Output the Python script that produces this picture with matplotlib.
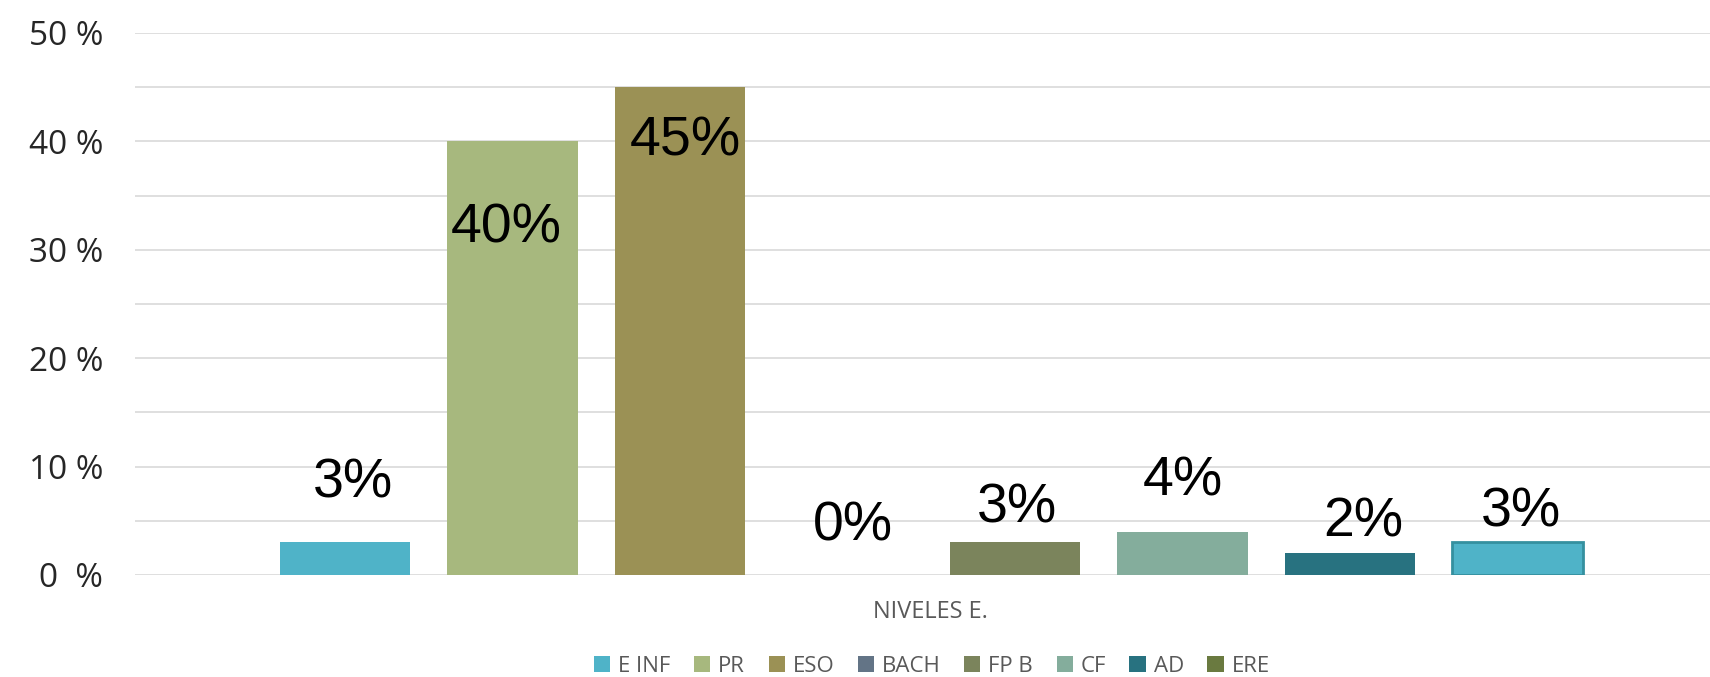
import numpy as np
import matplotlib.pyplot as plt
from matplotlib.patches import Patch
from matplotlib.ticker import MultipleLocator

# data
series = ["E INF", "PR", "ESO", "BACH", "FP B", "CF", "AD", "ERE"]
values = [3, 40, 45, 0, 3, 4, 2, 3]
labels = ["3%", "40%", "45%", "0%", "3%", "4%", "2%", "3%"]
category = "NIVELES E."
ytick_vals = [0, 10, 20, 30, 40, 50]
ytick_labels = ["0  %", "10 %", "20 %", "30 %", "40 %", "50 %"]

# label placement (hand moved in the original)
label_dx = [0.05, -0.04, 0.03, 0.03, 0.01, 0.0, 0.08, 0.02]
label_y = [8.4, 32.0, 40.0, 4.5, 6.1, 8.6, 4.8, 5.8]

legend_colors = ["#4fb3c8", "#a7b87e", "#9b9155", "#637486",
                 "#7b845c", "#84ad9c", "#287280", "#6a7a40"]
bar_colors = legend_colors[:-1] + ["#4fb3c8"]
edge_colors = ["none"] * 7 + ["#35909f"]

fig = plt.figure(figsize=(17.1, 6.77), dpi=100)
ax = fig.add_axes([0.0789, 0.1507, 0.9211, 0.8006])

x = np.arange(len(series))
ax.bar(x, values, width=0.78, color=bar_colors, edgecolor=edge_colors,
       linewidth=2, zorder=3)

for i, lab in enumerate(labels):
    ax.text(x[i] + label_dx[i], label_y[i], lab, ha="center", va="center",
            fontsize=40, family=["Liberation Sans", "DejaVu Sans"],
            color="black", zorder=4)

ax.set_xlim(-1.254, 8.149)
ax.set_ylim(0, 50)

ax.yaxis.set_major_locator(MultipleLocator(5))
ax.set_yticks(ytick_vals)
ax.set_yticklabels(ytick_labels, family=["Open Sans", "DejaVu Sans"],
                   fontsize=24, color="#262626")
ax.yaxis.set_minor_locator(MultipleLocator(5))
ax.tick_params(axis="y", which="both", length=0, pad=23)
ax.set_xticks([])

ax.grid(axis="y", which="both", color="#d9d9d9", linewidth=1.2, zorder=0)
for s in ax.spines.values():
    s.set_visible(False)

ax.set_xlabel(category, family=["Open Sans", "DejaVu Sans"], fontsize=17,
              color="#595959")
ax.xaxis.set_label_coords(0.505, -0.068)
ax.xaxis.label.set_verticalalignment("center")

handles = [Patch(facecolor=c, edgecolor="none") for c in legend_colors]
fig.legend(handles, series, loc="center", bbox_to_anchor=(0.545, 0.016),
           ncol=len(series), frameon=False,
           prop={"family": ["Open Sans", "DejaVu Sans"], "size": 16},
           labelcolor="#595959", handlelength=0.73, handleheight=0.73,
           handletextpad=0.36, columnspacing=1.05)

plt.savefig("out.png", dpi=100)
